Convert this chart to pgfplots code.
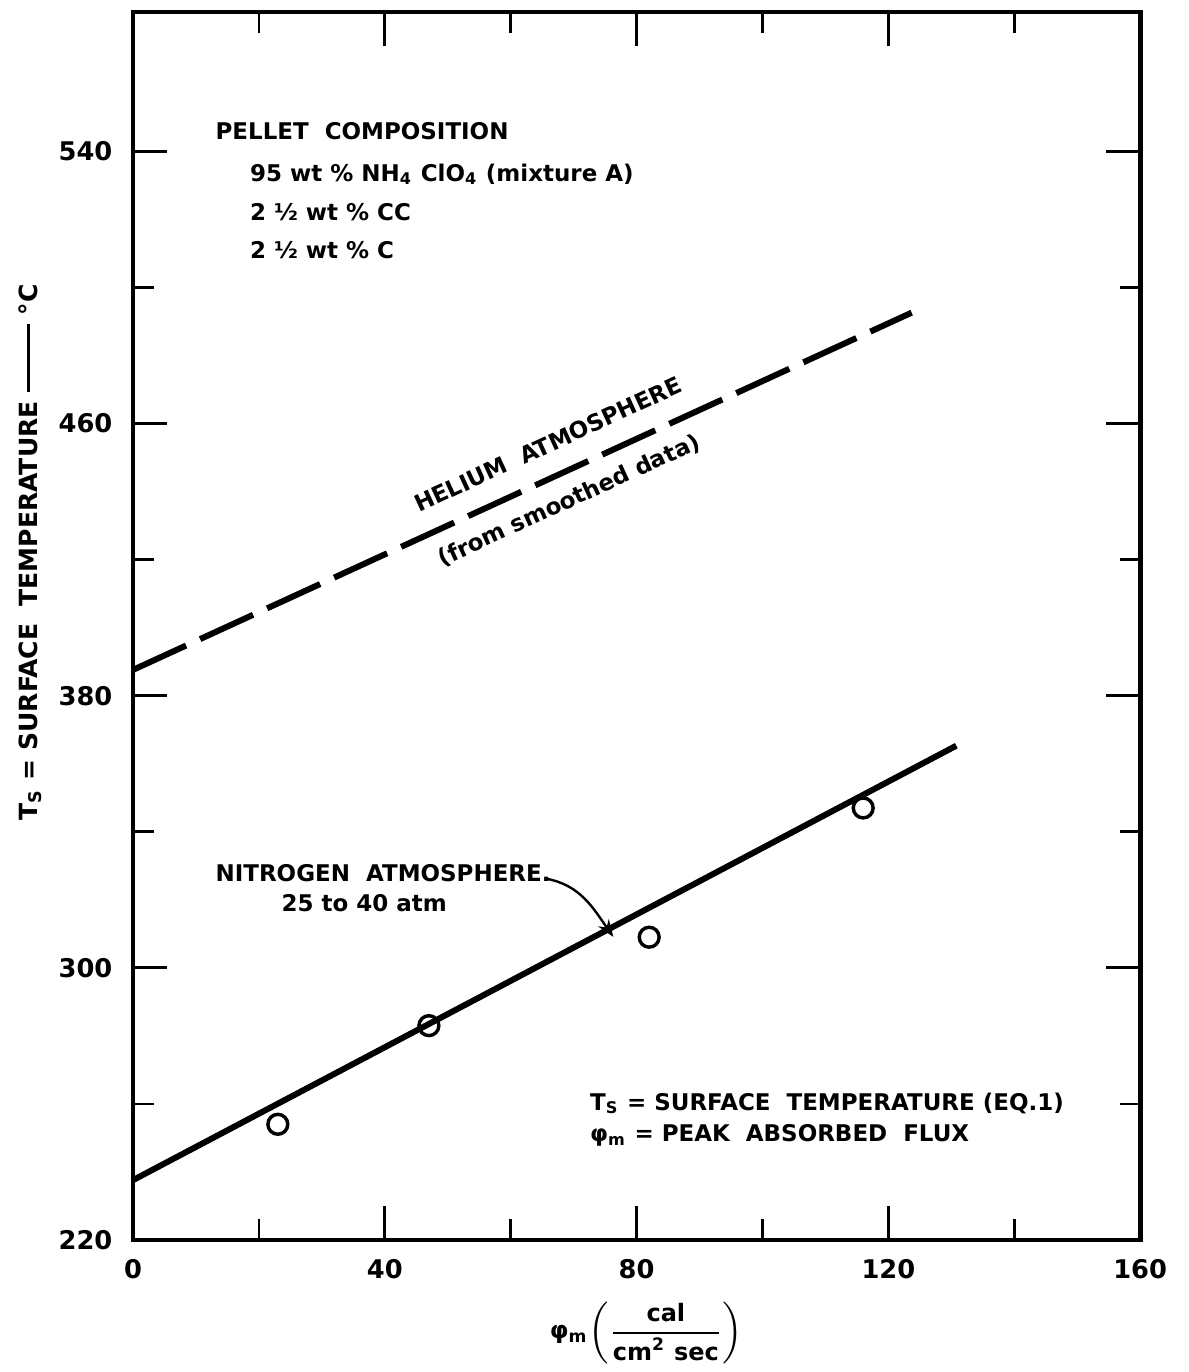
\documentclass[border=0pt]{standalone}
\usepackage{fontspec}
\setmainfont{DejaVu Sans}
\usepackage{pgfplots}
\pgfplotsset{compat=1.18}
\usetikzlibrary{arrows.meta}

% nitrogen atmosphere, measured points
\pgfplotstableread{
x y
23 254
47 283
82 309
116 347
}\nitrogendata

\begin{document}
\begin{tikzpicture}[font=\bfseries\fontsize{6.7}{8}\selectfont]
\begin{axis}[
  scale only axis,
  width=293.6pt, height=358pt,
  xmin=0, xmax=160, ymin=220, ymax=581,
  xtick={0,40,...,160}, ytick={220,300,...,540},
  minor xtick={20,60,100,140}, minor ytick={260,340,420,500},
  tick align=inside,
  major tick length=10pt, minor tick length=6pt,
  axis line style={line width=1.4pt},
  tick style={line width=0.8pt, black},
  /pgf/number format/assume math mode=true,
  tick label style={font=\bfseries\fontsize{7.5}{9}\selectfont},
  yticklabel style={xshift=-2.5pt},
  xticklabel style={yshift=-2pt},
  xlabel={φ\textsubscript{m}$\left(\displaystyle\frac{\mbox{cal}}{\mbox{cm\textsuperscript{2} sec}}\right)$},
  xlabel style={at={(axis description cs:0.51,-0.0757)}, anchor=center, font=\bfseries\fontsize{7}{8}\selectfont},
  ylabel={T\textsubscript{S} = SURFACE\ \ TEMPERATURE \rule[0.3em]{20pt}{0.8pt} °C},
  ylabel style={at={(axis description cs:-0.102,0.56)}, anchor=center, font=\bfseries\fontsize{7.3}{8}\selectfont},
  clip=false,
]
\addplot[black, line width=1.75pt, dash pattern=on 17pt off 4.5pt]
  coordinates {(0,387.6) (123.7,492.6)}
  node[pos=0.55, sloped, above=2.5pt] {HELIUM\ \ ATMOSPHERE}
  node[pos=0.545, sloped, below=1pt] {(from smoothed data)};
\addplot[black, line width=1.75pt] coordinates {(0,237.6) (130.8,365.3)};
\addplot[only marks, mark=o, mark size=2.9pt,
  mark options={fill=white, line width=1pt}] table {\nitrogendata};

\begin{scope}[every node/.style={anchor=base west, inner sep=0pt}]
\node at (axis cs:13,543.5) {PELLET\ \ COMPOSITION};
\node at (axis cs:18.5,531.3) {95 wt \% NH\textsubscript{4} ClO\textsubscript{4} (mixture A)};
\node at (axis cs:18.5,519.8) {2 ½ wt \% CC};
\node at (axis cs:18.5,508.4) {2 ½ wt \% C};

\node at (axis cs:13,325.4) {NITROGEN\ \ ATMOSPHERE.};
\node at (axis cs:23.5,316.6) {25 to 40 atm};

\node at (axis cs:72.5,258.2) {T\textsubscript{S} = SURFACE\ \ TEMPERATURE (EQ.1)};
\node at (axis cs:72.5,248.9) {φ\textsubscript{m} = PEAK\ \ ABSORBED\ \ FLUX};
\end{scope}
\draw[-{Stealth[length=5pt]}, line width=0.7pt]
  (axis cs:65.6,326.2) to[out=-10, in=125] (axis cs:76.3,309.1);
\end{axis}
\pgfresetboundingbox
\path ([xshift=-38.8pt,yshift=-38.5pt]current axis.south west)
  rectangle ([xshift=14pt,yshift=3.5pt]current axis.north east);
\end{tikzpicture}
\end{document}
